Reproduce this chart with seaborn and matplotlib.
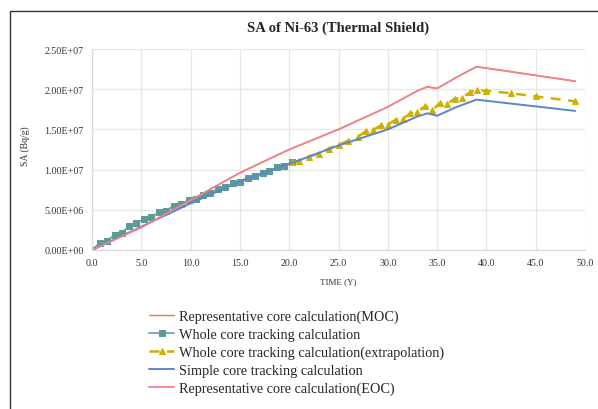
import matplotlib
matplotlib.use("Agg")
import matplotlib.pyplot as plt
import matplotlib.patches as mpatches
import seaborn as sns
import numpy as np
import pandas as pd

title = "SA of Ni-63 (Thermal Shield)"
xlabel = "TIME (Y)"
ylabel = "SA (Bq/g)"
labels = ["Representative core calculation(MOC)",
          "Whole core tracking calculation",
          "Whole core tracking calculation(extrapolation)",
          "Simple core tracking calculation",
          "Representative core calculation(EOC)"]

# Representative core (MOC / EOC)
rep_x = [0, 5, 10, 15, 20, 25, 30, 33, 34, 35, 37, 39, 49]
moc_y = [0, 2.8e6, 6.2e6, 9.6e6, 1.25e7, 1.5e7, 1.78e7, 1.98e7, 2.03e7, 2.01e7, 2.15e7, 2.28e7, 2.1e7]
eoc_y = [0, 2.8e6, 6.2e6, 9.6e6, 1.25e7, 1.5e7, 1.78e7, 1.98e7, 2.03e7, 2.01e7, 2.15e7, 2.28e7, 2.1e7]

# Whole core tracking
whole_x = [0, 0.8, 1.5, 2.3, 3.0, 3.8, 4.5, 5.3, 6.0, 6.8, 7.5, 8.3, 9.0, 9.8,
           10.5, 11.3, 12.0, 12.8, 13.5, 14.3, 15.0, 15.8, 16.5, 17.3, 18.0,
           18.8, 19.5, 20.3]
whole_y = [0, 0.9e6, 1.1e6, 1.9e6, 2.1e6, 3.0e6, 3.3e6, 3.9e6, 4.1e6, 4.7e6,
           4.9e6, 5.5e6, 5.7e6, 6.2e6, 6.4e6, 6.9e6, 7.1e6, 7.6e6, 7.8e6,
           8.3e6, 8.5e6, 9.0e6, 9.2e6, 9.6e6, 9.8e6, 1.03e7, 1.05e7, 1.09e7]

# Whole core tracking (extrapolation)
extra_x = [20.3, 21, 22, 23, 24, 25, 26, 27, 27.8, 28.5, 29.3, 30, 30.8, 31.5,
           32.3, 33, 33.8, 34.5, 35.3, 36, 36.8, 37.5, 38.3, 39, 40, 42.5, 45, 49]
extra_y = [1.09e7, 1.11e7, 1.16e7, 1.2e7, 1.26e7, 1.31e7, 1.36e7, 1.41e7, 1.48e7,
           1.49e7, 1.55e7, 1.56e7, 1.62e7, 1.63e7, 1.7e7, 1.72e7, 1.79e7, 1.74e7,
           1.83e7, 1.82e7, 1.88e7, 1.89e7, 1.96e7, 1.99e7, 1.98e7, 1.95e7, 1.91e7, 1.85e7]

# Simple core tracking
simple_x = [0, 5, 10, 15, 20, 25, 30, 33, 34, 35, 37, 39, 49]
simple_y = [0, 2.9e6, 5.8e6, 8.5e6, 1.07e7, 1.3e7, 1.5e7, 1.66e7, 1.7e7, 1.67e7, 1.78e7, 1.87e7, 1.73e7]

xticks = [0, 5, 10, 15, 20, 25, 30, 35, 40, 45, 50]
yticks = [0, 5e6, 1e7, 1.5e7, 2e7, 2.5e7]
ytick_labels = ["0.00E+00", "5.00E+06", "1.00E+07", "1.50E+07", "2.00E+07", "2.50E+07"]

sns.set_style("white")
plt.rcParams['font.family'] = ['Liberation Serif', 'DejaVu Serif']

W, H = 598, 410
fig = plt.figure(figsize=(W / 100, H / 100), dpi=100)
ax = fig.add_axes([92 / W, 1 - 251 / H, (585 - 92) / W, (251 - 50) / H])

c_moc = "#ED7D31"
c_whole = "#7FA6B8"
c_whole_m = "#5E9B94"
c_extra = "#CDB000"
c_simple = "#5B86CC"
c_eoc = "#F2828F"

sns.lineplot(x=rep_x, y=moc_y, ax=ax, color=c_moc, lw=1.0, label=labels[0])
sns.lineplot(x=whole_x, y=whole_y, ax=ax, color=c_whole, lw=1.4, marker="s",
             markersize=4.5, markerfacecolor=c_whole_m, markeredgecolor=c_whole_m,
             label=labels[1])
sns.lineplot(x=extra_x, y=extra_y, ax=ax, color=c_extra, lw=1.8, marker="^",
             markersize=4.2, markerfacecolor=c_extra, markeredgecolor=c_extra,
             label=labels[2])
sns.lineplot(x=simple_x, y=simple_y, ax=ax, color=c_simple, lw=1.4, label=labels[3])
sns.lineplot(x=rep_x, y=eoc_y, ax=ax, color=c_eoc, lw=1.3, label=labels[4])
ax.lines[2].set_linestyle((0, (4, 3)))

ax.set_xlim(0, 50)
ax.set_ylim(0, 2.5e7)
ax.set_xticks(xticks)
ax.set_xticklabels([f"{v:.1f}" for v in xticks], fontsize=7.2, color="#333333")
ax.set_yticks(yticks)
ax.set_yticklabels(ytick_labels, fontsize=7.2, color="#333333")
ax.tick_params(length=0, pad=6)
ax.grid(True, color="#e6e6e6", lw=0.9)
for s in ["top", "right"]:
    ax.spines[s].set_visible(False)
for s in ["left", "bottom"]:
    ax.spines[s].set_color("#d9d9d9")
    ax.spines[s].set_linewidth(0.9)
ax.set_xlabel(xlabel, fontsize=6.5, labelpad=7, color="#333333")
ax.set_ylabel(ylabel, fontsize=7, labelpad=4, color="#333333")
ax.yaxis.set_label_coords(-0.125, 0.52)
ax.set_title(title, fontsize=10.5, fontweight="bold", pad=13, x=0.5)

handles, labs = ax.get_legend_handles_labels()
ax.get_legend().remove()
fig.legend(handles, labs, loc="upper left", bbox_to_anchor=(143 / W, 1 - 305 / H),
           frameon=False, fontsize=10.3, handlelength=1.8, handletextpad=0.35,
           labelspacing=0.33, borderaxespad=0)

border = mpatches.Rectangle((10 / W, -0.1), 1.2, 1 - 12 / H + 0.1,
                            transform=fig.transFigure, fill=False,
                            edgecolor="#333333", lw=1.0)
fig.add_artist(border)

fig.savefig("out.png", dpi=100)
